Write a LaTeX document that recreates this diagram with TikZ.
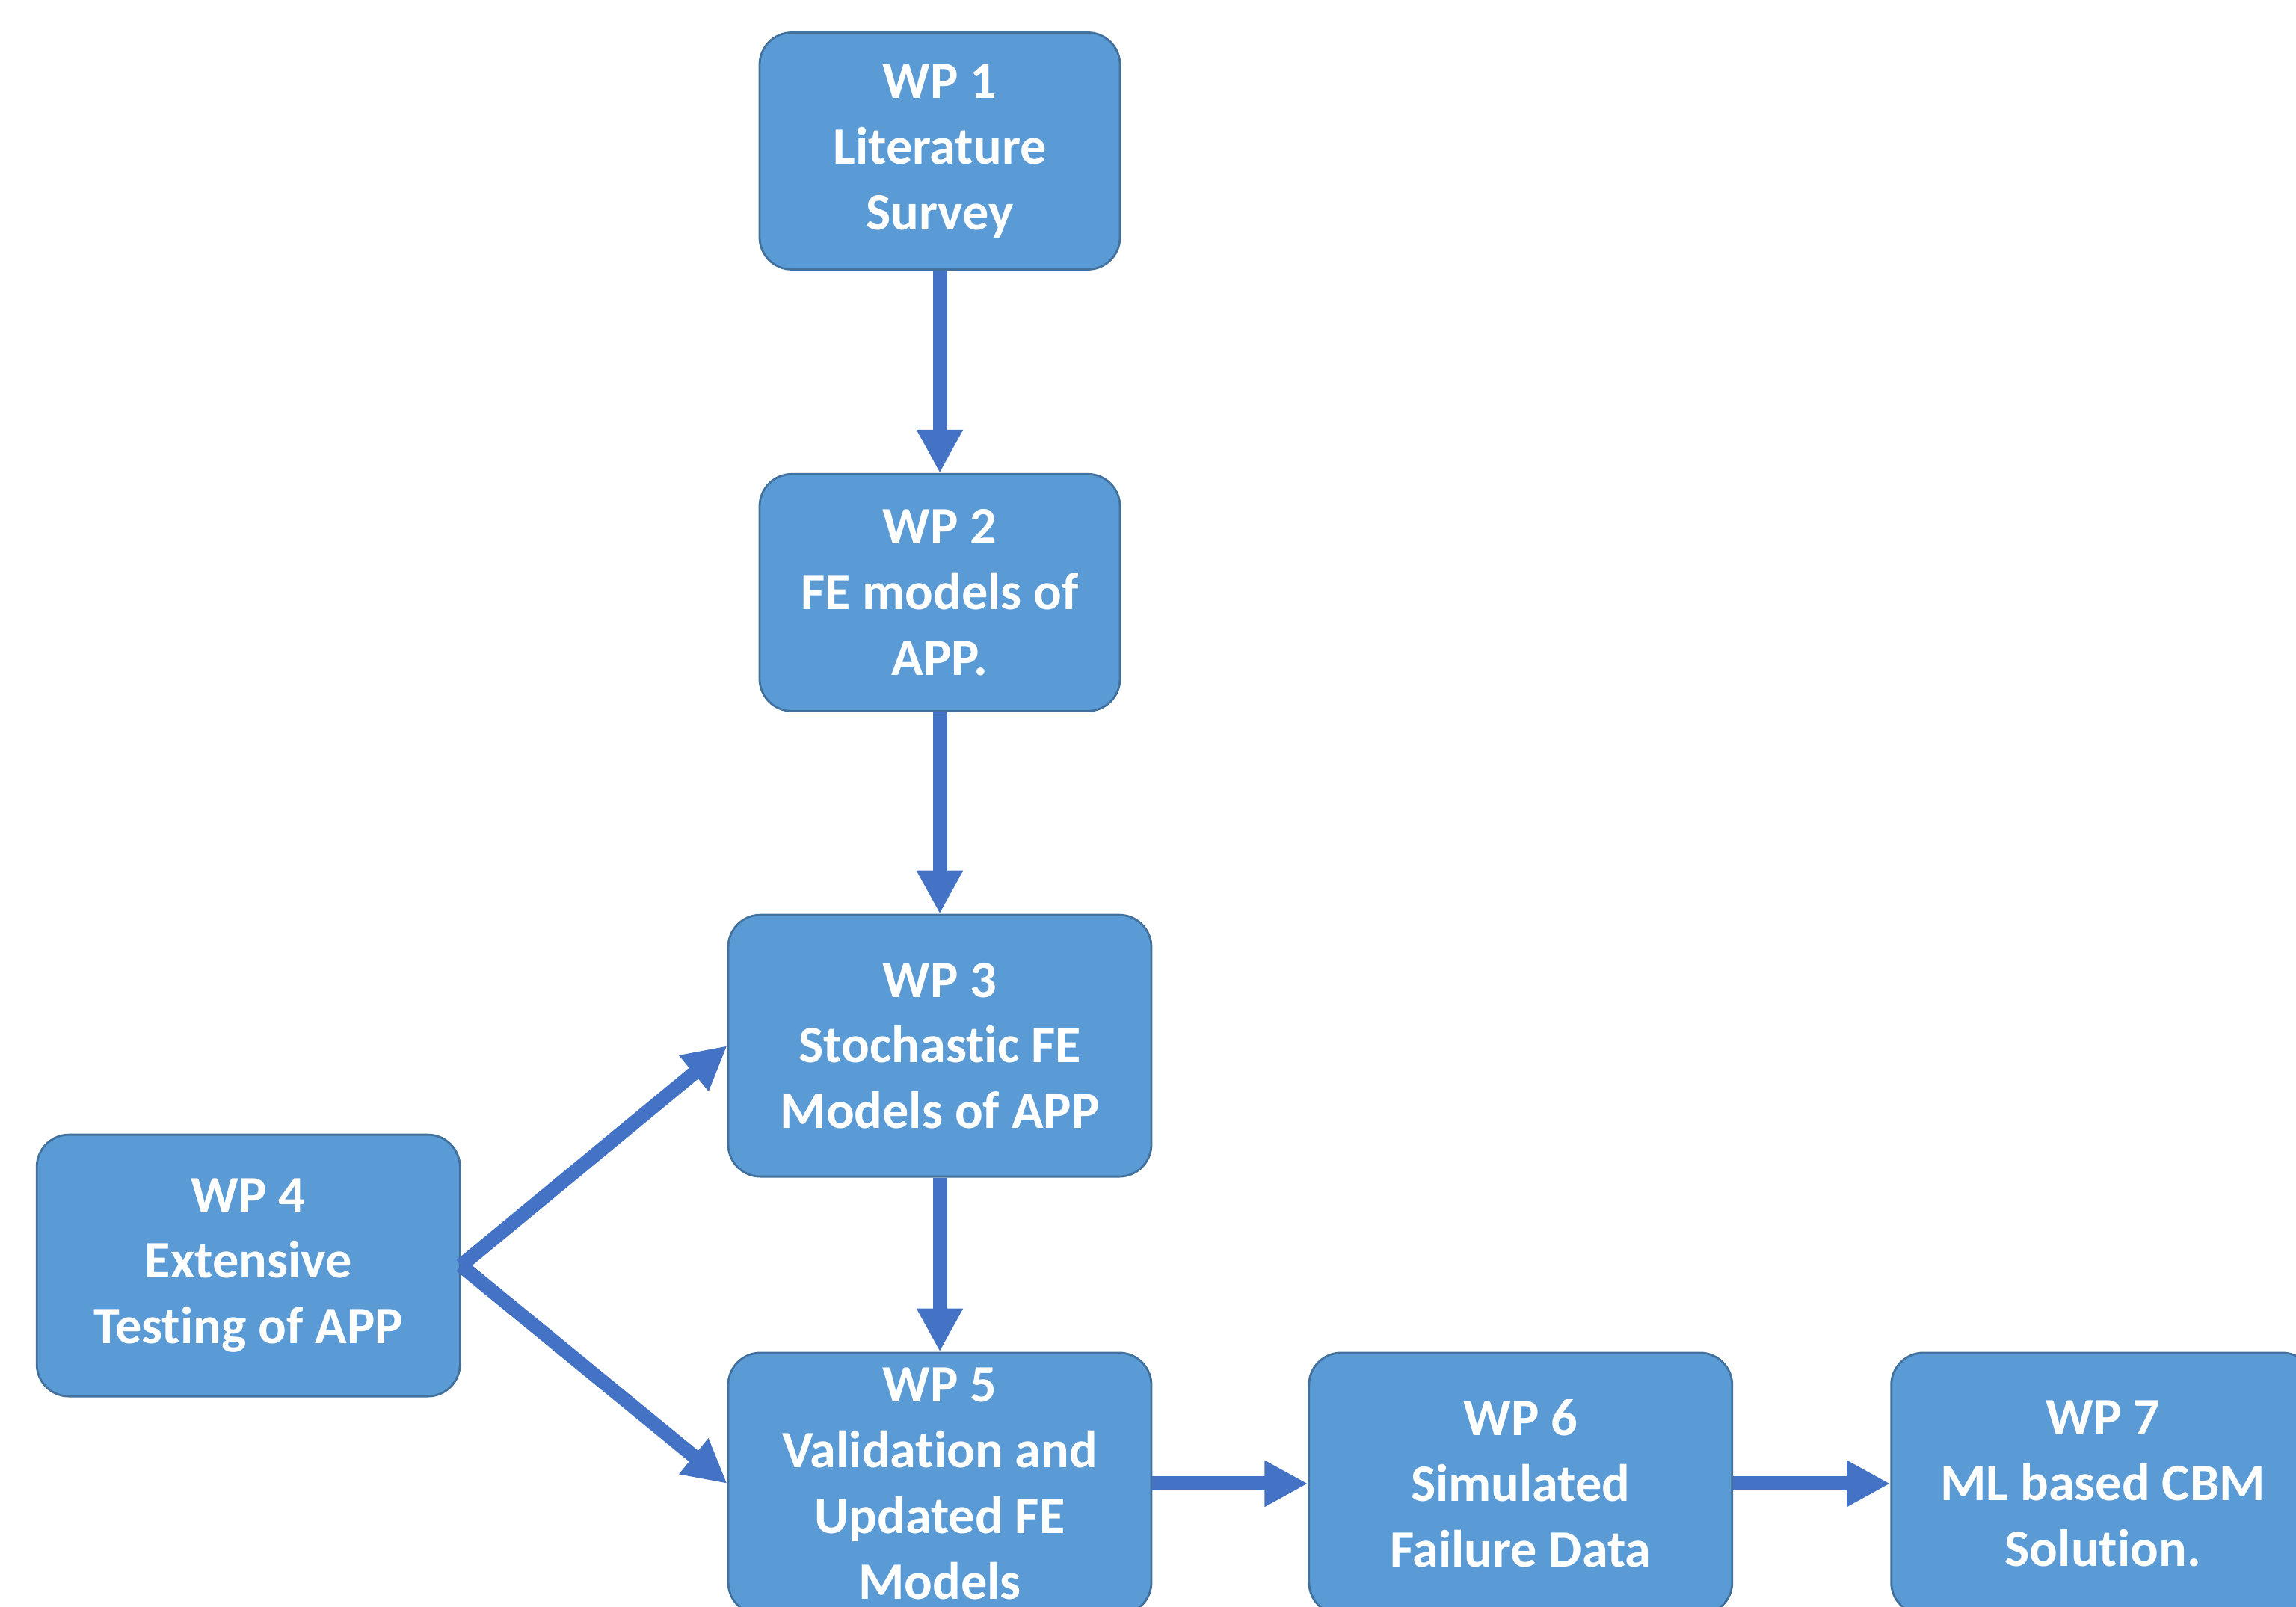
\documentclass[tikz,border=0pt]{standalone}
\usepackage{fontspec}
\setmainfont{Carlito}[Ligatures=NoCommon]
\usepackage{xcolor}
\usetikzlibrary{arrows.meta, positioning}
\definecolor{wpfill}{HTML}{5B9BD5}
\definecolor{wpdraw}{HTML}{41719C}
\definecolor{wparrow}{HTML}{4472C4}

\begin{document}
\begin{tikzpicture}[
		wpbox/.style={rectangle, draw=wpdraw, fill=wpfill, line width=0.8pt, rounded corners=0.43cm, text=white, align=center, font=\fontsize{20}{25}\selectfont\bfseries, minimum width=5.66cm, minimum height=3.5cm, inner sep=1pt},
		smallbox/.style={wpbox, minimum width=4.82cm, minimum height=3.17cm},
		line/.style={draw=wparrow, line width=1.9mm, -{Triangle[length=5.8mm, width=5.8mm]}},
		node distance=2.7cm
		]
		\useasboundingbox (0,0) rectangle (30.71,21.49);
		
		% Main column - WP 1 to WP 3
		\node[smallbox] (wp1) at (12.57,19.47) {WP 1\\Literature\\Survey};
		\node[smallbox, below=2.71cm of wp1] (wp2) {WP 2\\FE models of\\APP.};
		\node[wpbox, below=2.7cm of wp2] (wp3) {WP 3\\Stochastic FE\\Models of APP};
		
		% Testing on the left
		\node[wpbox, left=3.56cm of wp3, yshift=-2.94cm] (wp4) {WP 4\\Extensive\\Testing of APP};
		
		% Bottom row - WP 5 to WP 7
		\node[wpbox, below=2.33cm of wp3] (wp5) {WP 5\\Validation and\\Updated FE\\Models};
		\node[wpbox, right=2.08cm of wp5] (wp6) {WP 6\\Simulated\\Failure Data};
		\node[wpbox, right=2.1cm of wp6] (wp7) {WP 7\\ML based CBM\\Solution.};
		
		% Arrows down the main column
		\draw[line] (wp1) -- (wp2);
		\draw[line] (wp2) -- (wp3);
		\draw[line] (wp3) -- (wp5);
		
		% Arrows from testing
		\draw[line] (wp4.east) -- (wp3.west);
		\draw[line] (wp4.east) -- (wp5.west);
		
		% Arrows along the bottom row
		\draw[line] (wp5) -- (wp6);
		\draw[line] (wp6) -- (wp7);
		
	\end{tikzpicture}
\end{document}
